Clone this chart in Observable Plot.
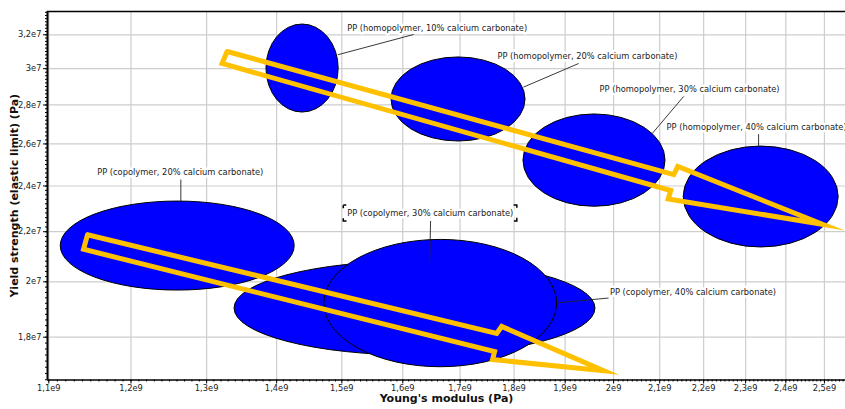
<!DOCTYPE html>
<html>
<head>
<meta charset="utf-8">
<script src="https://cdn.jsdelivr.net/npm/d3@7"></script>
<script src="https://cdn.jsdelivr.net/npm/@observablehq/plot@0.6"></script>
<style>
  body { margin: 0; background: #fff; }
  #chart svg { display: block; }
</style>
</head>
<body>
<div id="chart"></div>
<script>
// Polypropylene grades filled with calcium carbonate: property ranges
const materials = [
  "PP (homopolymer, 10% calcium carbonate)",
  "PP (homopolymer, 20% calcium carbonate)",
  "PP (homopolymer, 30% calcium carbonate)",
  "PP (homopolymer, 40% calcium carbonate)",
  "PP (copolymer, 20% calcium carbonate)",
  "PP (copolymer, 40% calcium carbonate)",
  "PP (copolymer, 30% calcium carbonate)"
];
// Young's modulus range (Pa)
const modulusLow  = [1.385e9, 1.581e9, 1.818e9, 2.154e9, 1.114e9, 1.339e9, 1.4725e9];
const modulusHigh = [1.495e9, 1.822e9, 2.113e9, 2.538e9, 1.427e9, 1.962e9, 1.884e9];
// Yield strength range (Pa)
const yieldLow  = [2.760e7, 2.612e7, 2.307e7, 2.135e7, 1.967e7, 1.738e7, 1.700e7];
const yieldHigh = [3.263e7, 3.065e7, 2.750e7, 2.587e7, 2.330e7, 2.079e7, 2.166e7];

// Label anchors and leader lines
const labelX = [1.5085e9, 1.7685e9, 1.9705e9, 2.1154e9, 1.1578e9, 1.9922e9, 1.5085e9];
const labelY = [3.2386e7, 3.0706e7, 2.8839e7, 2.6837e7, 2.4622e7, 1.9607e7, 2.2777e7];
const leaderFromX = [1.4935e9, 1.818e9, 2.0839e9, 2.3317e9, 1.265e9, 1.884e9, 1.6461e9];
const leaderFromY = [3.0805e7, 2.8966e7, 2.6533e7, 2.587e7, 2.330e7, 1.9216e7, 2.0748e7];
const leaderToX = [1.6185e9, 1.9274e9, 2.154e9, 2.3317e9, 1.265e9, 1.9894e9, 1.6478e9];
const leaderToY = [3.2018e7, 3.0300e7, 2.8458e7, 2.6492e7, 2.4296e7, 1.9392e7, 2.2455e7];

// Selection box around the highlighted label
const selectedBoxX = [1.5031e9, 1.8062e9];
const selectedBoxY = [2.2434e7, 2.3127e7];

// Trend arrows (outline vertices)
const homoArrowX = [1.3285e9, 2.1314e9, 2.1405e9, 2.4950e9, 2.1191e9, 2.1247e9, 1.3215e9];
const homoArrowY = [3.0999e7, 2.4528e7, 2.4905e7, 2.2314e7, 2.3414e7, 2.3796e7, 3.0300e7];
const copoArrowX = [1.1460e9, 1.7672e9, 1.7766e9, 1.9788e9, 1.7595e9, 1.7633e9, 1.1412e9];
const copoArrowY = [2.1872e7, 1.8130e7, 1.8372e7, 1.6891e7, 1.7249e7, 1.7514e7, 2.1277e7];

// Axes
const xDomain = [1.0985e9, 2.5564e9];
const yDomain = [1.6592e7, 3.345e7];
const xTicks = [1.1e9, 1.2e9, 1.3e9, 1.4e9, 1.5e9, 1.6e9, 1.7e9, 1.8e9, 1.9e9, 2.0e9, 2.1e9, 2.2e9, 2.3e9, 2.4e9, 2.5e9];
const yTicks = [1.8e7, 2.0e7, 2.2e7, 2.4e7, 2.6e7, 2.8e7, 3.0e7, 3.2e7];
const xMinor = d3.range(110, 256).map(k => k * 1e7);
const yMinor = d3.range(166, 335, 2).map(k => k * 1e5);

const sci = (v, e) => {
  const m = Math.round(v / Math.pow(10, e) * 10) / 10;
  return String(m).replace(".", ",") + "e" + e;
};

const ellipses = materials.map((name, i) => ({
  name, x1: modulusLow[i], x2: modulusHigh[i], y1: yieldLow[i], y2: yieldHigh[i]
}));
const labels = materials.map((name, i) => ({
  name, x: labelX[i], y: labelY[i],
  fx: leaderFromX[i], fy: leaderFromY[i], tx: leaderToX[i], ty: leaderToY[i]
}));
const outline = (id, xs, ys) =>
  xs.concat([xs[0]]).map((x, i) => ({id, x, y: ys.concat([ys[0]])[i]}));
const arrows = outline("homopolymer", homoArrowX, homoArrowY)
  .concat(outline("copolymer", copoArrowX, copoArrowY));

const chart = Plot.plot({
  width: 845,
  height: 409,
  marginLeft: 47,
  marginRight: 0,
  marginTop: 11,
  marginBottom: 29.5,
  x: {type: "log", domain: xDomain, label: null},
  y: {type: "log", domain: yDomain, label: null},
  style: {fontFamily: "DejaVu Sans", fontSize: "8.3px", color: "#222", background: "#fff", overflow: "visible"},
  marks: [
    Plot.gridX(xTicks, {stroke: "#cdcdcd", strokeOpacity: 1, strokeWidth: 1.2}),
    Plot.gridY(yTicks, {stroke: "#cdcdcd", strokeOpacity: 1, strokeWidth: 1.2}),
    // property envelopes: fully rounded rects collapse to ellipses
    Plot.rect(ellipses, {
      x1: "x1", x2: "x2", y1: "y1", y2: "y2",
      rx: 2000, ry: 2000,
      fill: "#0000ff", stroke: "#000", strokeWidth: 1
    }),
    Plot.line(arrows, {
      x: "x", y: "y", z: "id",
      stroke: "#ffc000", strokeWidth: 5,
      strokeLinejoin: "miter", strokeMiterlimit: 14, curve: "linear"
    }),
    Plot.link(labels, {x1: "fx", y1: "fy", x2: "tx", y2: "ty", stroke: "#222", strokeWidth: 0.9}),
    Plot.text(labels, {
      x: "x", y: "y", text: "name",
      textAnchor: "start", fill: "#222", stroke: "#fff", strokeWidth: 5,
      fontSize: 8.3
    }),
    // corner brackets of the selected label
    Plot.rect([0], {
      x1: () => selectedBoxX[0], x2: () => selectedBoxX[1],
      y1: () => selectedBoxY[0], y2: () => selectedBoxY[1],
      fill: "none", stroke: "#000", strokeWidth: 1.5,
      strokeDasharray: "3,167.4,6,10,6,167.4,6,10,3"
    }),
    // axes
    Plot.axisX(xMinor, {tickSize: 2, tickFormat: () => "", label: null, stroke: "#000"}),
    Plot.axisY(yMinor, {anchor: "left", tickSize: 2, tickFormat: () => "", label: null, stroke: "#000"}),
    Plot.axisX(xTicks, {tickSize: 4, tickPadding: 1, tickFormat: d => sci(d, 9), label: null, stroke: "#000"}),
    Plot.axisY(yTicks, {anchor: "left", tickSize: 4, tickPadding: 2, tickFormat: d => sci(d, 7), label: null, stroke: "#000"}),
    Plot.ruleX([xDomain[0]], {stroke: "#000", strokeWidth: 2}),
    Plot.ruleY([yDomain[0]], {stroke: "#000", strokeWidth: 1.5}),
    Plot.ruleY([yDomain[1]], {stroke: "#000", strokeWidth: 1.5}),
    Plot.text(["Young's modulus (Pa)"], {
      frameAnchor: "bottom", dy: 21.5, fontWeight: "bold", fontSize: 11, fill: "#111"
    }),
    Plot.text(["Yield strength (elastic limit) (Pa)"], {
      frameAnchor: "left", dx: -33, rotate: -90, textAnchor: "middle",
      fontWeight: "bold", fontSize: 11, fill: "#111"
    })
  ]
});

document.getElementById("chart").append(chart);
</script>
</body>
</html>
